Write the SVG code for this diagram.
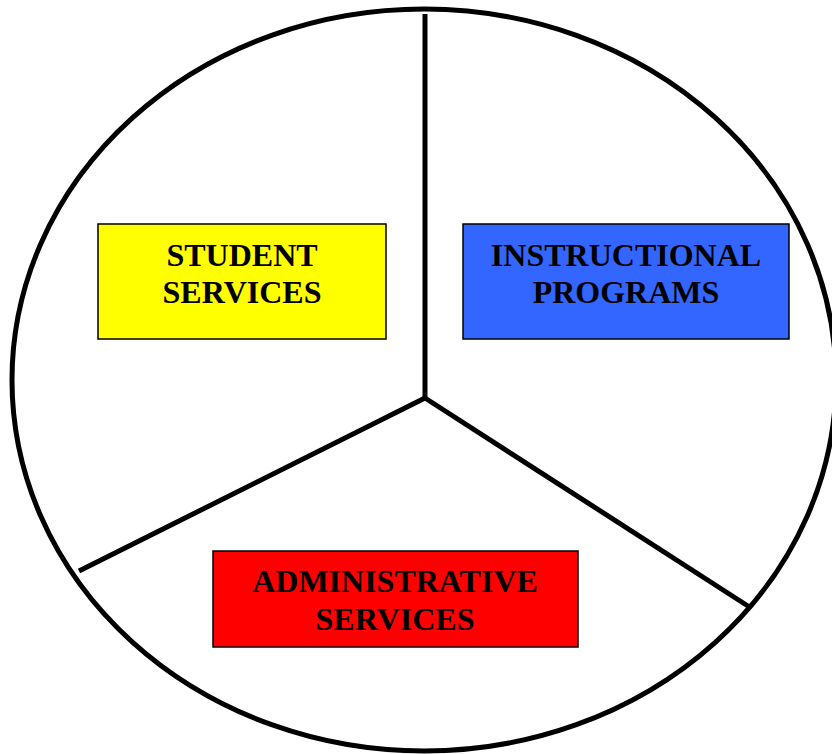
<svg xmlns="http://www.w3.org/2000/svg" width="832" height="754" viewBox="0 0 832 754">
<style>
.box{stroke:#000;stroke-width:1.5}
.lbl{font-family:"Liberation Serif","Times New Roman",serif;font-weight:bold;font-size:32px;fill:#000;text-anchor:middle}
.ln{stroke:#000;stroke-width:5;fill:none}
</style>
<rect width="832" height="754" fill="#fff"/>
<ellipse cx="424" cy="380" rx="412" ry="371" class="ln"/>
<g id="connectors">
<line x1="425" y1="14" x2="425" y2="398" class="ln"/>
<line x1="425" y1="398" x2="79" y2="571" class="ln"/>
<line x1="425" y1="398" x2="751" y2="608" class="ln"/>
</g>
<g id="student">
<rect x="98" y="224" width="288" height="115" fill="#ffff00" class="box"/>
<text class="lbl" x="242" y="266">STUDENT</text>
<text class="lbl" x="242" y="303">SERVICES</text>
</g>
<g id="instructional">
<rect x="463" y="224" width="326" height="115" fill="#3366ff" class="box"/>
<text class="lbl" x="626" y="266">INSTRUCTIONAL</text>
<text class="lbl" x="626" y="303">PROGRAMS</text>
</g>
<g id="administrative">
<rect x="213" y="551" width="365" height="96" fill="#ff0000" class="box"/>
<text class="lbl" x="395" y="592">ADMINISTRATIVE</text>
<text class="lbl" x="395" y="630">SERVICES</text>
</g>
</svg>
